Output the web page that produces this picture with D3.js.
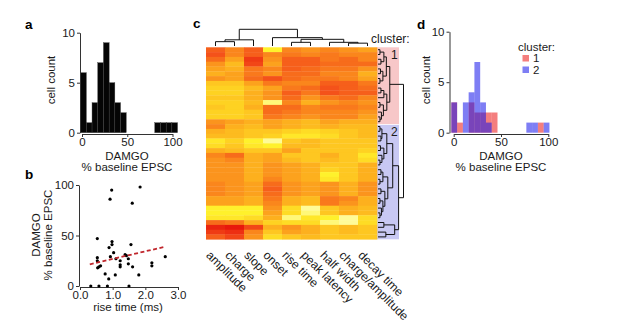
<!DOCTYPE html>
<html><head><meta charset="utf-8">
<script src="https://cdn.jsdelivr.net/npm/d3@7"></script>
<style>
body{margin:0;background:#fff;}
svg{display:block;font-family:"Liberation Sans",Arial,sans-serif;}
</style></head><body>
<svg id="chart" width="617" height="328"></svg>
<script>
// ---------- Panel a: histogram ----------
const histBinStartA = -1.5, histBinWidthA = 6.3;
const histCountsA = [6,1,3,7,9,5,3,2,0,0,0,0,0,1,1,1,1];
const histTicksX = [0,50,100];
const histTicksY = [0,5,10];

// ---------- Panel b: scatter ----------
const riseTime = [0.33,0.58,0.84,1.50,0.92,0.97,1.84,1.60,0.53,0.98,0.98,0.89,1.03,1.56,0.53,0.53,0.54,0.58,0.63,0.93,1.10,1.23,1.23,1.23,1.38,1.42,1.48,1.48,1.61,0.77,0.88,1.08,1.80,2.20,2.20,2.61];
const damgoB   = [0,0,0,0,86,95,98,82,47,44,41,38,33,41,28,25,18,19,20,29,27,25,21,19,31,30,27,22,19,12,7,11,11,23,20,29];
const trendX = [0.3, 2.62];
const trendY = [21.5, 39];
const scatterTicksX = [0,1,2,3];
const scatterTicksY = [0,50,100];

// ---------- Panel c: heatmap ----------
const features = ["amplitude","charge","slope","onset","rise time","peak latency","half width","charge/amplitude","decay time"];
const heat = [
 [0.30,0.45,0.30,0.90,0.45,0.50,0.45,0.50,0.55],
 [0.25,0.45,0.30,0.45,0.40,0.45,0.40,0.45,0.45],
 [0.35,0.55,0.15,0.50,0.30,0.30,0.40,0.35,0.45],
 [0.50,0.65,0.20,0.55,0.30,0.30,0.35,0.35,0.35],
 [0.55,0.60,0.40,0.45,0.30,0.35,0.40,0.40,0.50],
 [0.60,0.55,0.40,0.50,0.35,0.35,0.45,0.45,0.60],
 [0.50,0.55,0.35,0.25,0.35,0.40,0.40,0.45,0.55],
 [0.70,0.70,0.55,0.40,0.45,0.45,0.30,0.30,0.40],
 [0.75,0.75,0.65,0.55,0.40,0.35,0.25,0.30,0.35],
 [0.75,0.75,0.60,0.50,0.30,0.40,0.25,0.30,0.30],
 [0.70,0.70,0.60,0.50,0.35,0.50,0.40,0.35,0.45],
 [0.75,0.75,0.65,0.95,0.45,0.60,0.50,0.45,0.50],
 [0.70,0.75,0.60,0.35,0.35,0.45,0.40,0.40,0.45],
 [0.75,0.75,0.70,0.35,0.40,0.45,0.45,0.45,0.50],
 [0.75,0.75,0.70,0.40,0.45,0.50,0.45,0.45,0.55],
 [0.50,0.55,0.60,0.55,0.60,0.65,0.55,0.60,0.60],
 [0.45,0.60,0.65,0.55,0.60,0.65,0.60,0.65,0.65],
 [0.60,0.65,0.70,0.70,0.75,0.80,0.75,0.70,0.65],
 [0.65,0.65,0.70,0.75,0.85,0.85,0.80,0.70,0.65],
 [0.85,0.75,0.90,0.97,0.70,0.65,0.70,0.70,0.70],
 [0.80,0.70,0.85,0.90,0.65,0.65,0.70,0.70,0.70],
 [0.60,0.65,0.70,0.70,0.55,0.70,0.70,0.70,0.75],
 [0.45,0.35,0.60,0.55,0.70,0.70,0.60,0.70,0.85],
 [0.50,0.45,0.60,0.55,0.65,0.70,0.65,0.70,0.80],
 [0.50,0.50,0.60,0.50,0.55,0.60,0.70,0.70,0.60],
 [0.50,0.50,0.60,0.50,0.55,0.60,0.75,0.70,0.60],
 [0.50,0.50,0.60,0.50,0.55,0.60,0.90,0.70,0.60],
 [0.50,0.50,0.60,0.45,0.55,0.60,0.85,0.70,0.60],
 [0.45,0.50,0.55,0.35,0.50,0.55,0.50,0.60,0.50],
 [0.45,0.50,0.55,0.30,0.50,0.55,0.50,0.60,0.50],
 [0.45,0.50,0.55,0.35,0.50,0.55,0.50,0.60,0.50],
 [0.55,0.55,0.60,0.40,0.60,0.65,0.40,0.45,0.60],
 [0.55,0.55,0.60,0.45,0.60,0.65,0.40,0.50,0.60],
 [0.90,0.90,0.90,0.50,0.80,0.97,0.70,0.60,0.65],
 [0.90,0.90,0.90,0.55,0.80,0.95,0.70,0.60,0.65],
 [0.85,0.85,0.80,0.60,0.95,0.85,0.90,0.97,0.80],
 [0.35,0.40,0.60,0.75,0.80,0.80,0.95,0.97,0.80],
 [0.05,0.00,0.20,0.60,0.50,0.60,0.70,0.65,0.70],
 [0.15,0.10,0.45,0.70,0.55,0.60,0.70,0.65,0.70],
 [0.30,0.20,0.50,0.80,0.70,0.65,0.70,0.70,0.70]
];
const clusterSizes = [16, 24];
const clusterLabels = ["1","2"];
// column dendrogram: {h, c:[...]} leaves are column indices
const colTree = {h:1.0, c:[
  {h:0.37, c:[{h:0.26, c:[0,1]}, 2]},
  {h:0.50, c:[3, {h:0.40, c:[{h:0.22, c:[4,5]}, {h:0.22, c:[6, {h:0.17, c:[7,8]}]}]}]}
]};
// row dendrogram: [h, left, right], leaves are row indices
const rowTree = [26,
  [12, [8.5, [6,[2,0,1],[3,2,3]], [5,[2.5,4,5],[2,6,7]]],
       [9, [6,[3,8,9],10], [5.5,[2,11,12],[3.5,13,[2,14,15]]]]],
  [21,
    [15, [9,[4,[2,16,17],[3,18,19]],[6,[2.5,20,21],[4,22,[2,23,24]]]],
         [10,[5,[3,25,26],[2,27,28]],[7,[3,29,30],[5,[2,31,32],[3.5,33,[2,34,35]]]]]],
    [17, [6,36,37], [8,38,39]]]
];

// ---------- Panel d: histogram by cluster ----------
const histBinStartD = -2.5, histBinWidthD = 6.1;
const countsCluster1 = [3,1,0,3,2,2,2,2,0,0,0,0,0,0,0,1,0];
const countsCluster2 = [3,0,3,4,7,3,1,0,0,0,0,0,0,1,1,0,1];

// ================= drawing =================
const svg = d3.select("#chart");
const FS = 11.5;
const txtCol = "#1a1a1a", axCol = "#333";

function styleAxis(g){
  g.selectAll("path.domain").attr("stroke", axCol).attr("stroke-width",1);
  g.selectAll(".tick line").attr("stroke", axCol);
  g.selectAll(".tick text").attr("font-size", FS).attr("fill", txtCol).attr("font-family","Liberation Sans, Arial, sans-serif");
}
function panelLetter(t,x,y){
  svg.append("text").attr("x",x).attr("y",y).attr("font-weight","bold").attr("font-size",13.5).attr("fill","#000").text(t);
}

// ----- Panel a -----
{
  const x = d3.scaleLinear().domain([0,100]).range([82,172.5]);
  const y = d3.scaleLinear().domain([0,10]).range([132.7,32.7]);
  const g = svg.append("g");
  g.selectAll("rect").data(histCountsA.map((c,i)=>({c,i})).filter(d=>d.c>0)).join("rect")
    .attr("x", d=>x(histBinStartA + d.i*histBinWidthA))
    .attr("width", x(histBinWidthA)-x(0))
    .attr("y", d=>y(d.c)).attr("height", d=>y(0)-y(d.c))
    .attr("fill","#050505").attr("stroke","#444").attr("stroke-width",0.4);
  g.append("g").attr("transform","translate(80,0)")
    .call(d3.axisLeft(y).tickValues(histTicksY).tickSize(3).tickSizeOuter(0).tickPadding(2)).call(styleAxis);
  g.append("g").attr("transform","translate(0,134)")
    .call(d3.axisBottom(x).tickValues(histTicksX).tickSize(3).tickSizeOuter(0).tickPadding(1)).call(styleAxis);
  g.append("text").attr("transform","translate(55,80) rotate(-90)").attr("text-anchor","middle")
    .attr("font-size",FS).attr("fill",txtCol).text("cell count");
  g.append("text").attr("x",127).attr("y",160).attr("text-anchor","middle").attr("font-size",FS).attr("fill",txtCol).text("DAMGO");
  g.append("text").attr("x",127).attr("y",171).attr("text-anchor","middle").attr("font-size",FS).attr("fill",txtCol).text("% baseline EPSC");
  panelLetter("a",25,29);
}

// ----- Panel b -----
{
  const x = d3.scaleLinear().domain([0,3]).range([80,178]);
  const y = d3.scaleLinear().domain([0,100]).range([286,185]);
  const g = svg.append("g");
  g.append("g").attr("transform","translate(79,0)")
    .call(d3.axisLeft(y).tickValues(scatterTicksY).tickSize(3).tickSizeOuter(0).tickPadding(2)).call(styleAxis);
  g.append("g").attr("transform","translate(0,287)")
    .call(d3.axisBottom(x).tickValues(scatterTicksX).tickSize(3).tickSizeOuter(0).tickPadding(1)).call(styleAxis);
  g.selectAll("circle").data(riseTime.map((r,i)=>[r,damgoB[i]])).join("circle")
    .attr("cx",d=>x(d[0])).attr("cy",d=>y(d[1])).attr("r",1.6).attr("fill","#000");
  g.append("line").attr("x1",x(trendX[0])).attr("y1",y(trendY[0])).attr("x2",x(trendX[1])).attr("y2",y(trendY[1]))
    .attr("stroke","#c0272d").attr("stroke-width",1.8).attr("stroke-dasharray","4,2.5");
  g.append("text").attr("transform","translate(40,235) rotate(-90)").attr("text-anchor","middle")
    .attr("font-size",FS).attr("fill",txtCol).text("DAMGO");
  g.append("text").attr("transform","translate(52,235) rotate(-90)").attr("text-anchor","middle")
    .attr("font-size",FS).attr("fill",txtCol).text("% baseline EPSC");
  g.append("text").attr("x",128).attr("y",311).attr("text-anchor","middle").attr("font-size",FS).attr("fill",txtCol).text("rise time (ms)");
  panelLetter("b",25,179);
}

// ----- Panel c -----
{
  const nR = heat.length, nC = features.length;
  const x = d3.scaleBand().domain(d3.range(nC)).range([206,377]);
  const y = d3.scaleBand().domain(d3.range(nR)).range([47.3,239.3]);
  const color = d3.scaleLinear().domain([0,0.25,0.45,0.6,0.75,0.9,1])
    .range(["#e8180c","#f4521a","#fa861c","#fdb01e","#fed222","#fff12c","#ffffc6"]).clamp(true);
  const g = svg.append("g");
  const bx0 = 377, bx1 = 399;
  let start = 0;
  const bandCols = ["#f7c7c8","#c8c8f3"];
  clusterSizes.forEach((n,k)=>{
    const y0 = y(start), y1 = y(start+n-1)+y.bandwidth();
    g.append("rect").attr("x",bx0).attr("y",y0+(k?0.8:0)).attr("width",bx1-bx0).attr("height",y1-y0-(k?0.8:0)).attr("fill",bandCols[k]);
    g.append("text").attr("x",391).attr("y",y0+11.5).attr("font-size",12).attr("fill",txtCol).text(clusterLabels[k]);
    start += n;
  });
  heat.forEach((row,r)=>row.forEach((v,c)=>{
    g.append("rect").attr("x",x(c)).attr("y",y(r)).attr("width",x.bandwidth()+0.3).attr("height",y.bandwidth()+0.3).attr("fill",color(v));
  }));
  const hy = d3.scaleLinear().domain([0,1]).range([46,29.3]);
  function colPos(n){
    if (typeof n === "number") return {x: x(n)+x.bandwidth()/2, h:0};
    const kids = n.c.map(colPos);
    const px = (kids[0].x + kids[kids.length-1].x)/2;
    const yy = hy(n.h);
    g.append("line").attr("x1",kids[0].x).attr("x2",kids[kids.length-1].x).attr("y1",yy).attr("y2",yy).attr("stroke","#111").attr("stroke-width",1);
    kids.forEach(k=>g.append("line").attr("x1",k.x).attr("x2",k.x).attr("y1",yy).attr("y2",hy(k.h)).attr("stroke","#111").attr("stroke-width",1));
    return {x:px, h:n.h};
  }
  colPos(colTree);
  const hx = d3.scaleLinear().domain([0,26]).range([378,403.5]);
  function rowPos(n){
    if (typeof n === "number") return {y: y(n)+y.bandwidth()/2, h:0};
    const kids = [rowPos(n[1]), rowPos(n[2])];
    const xx = hx(n[0]);
    g.append("line").attr("x1",xx).attr("x2",xx).attr("y1",kids[0].y).attr("y2",kids[1].y).attr("stroke","#111").attr("stroke-width",1);
    kids.forEach(k=>g.append("line").attr("y1",k.y).attr("y2",k.y).attr("x1",hx(k.h)).attr("x2",xx).attr("stroke","#111").attr("stroke-width",1));
    return {y:(kids[0].y+kids[1].y)/2, h:n[0]};
  }
  rowPos(rowTree);
  g.append("text").attr("x",371).attr("y",43).attr("font-size",12).attr("fill",txtCol).text("cluster:");
  features.forEach((f,c)=>{
    g.append("text").attr("transform",`translate(${x(c)+x.bandwidth()/2-10},${256}) rotate(45)`)
      .attr("font-size",12).attr("fill",txtCol).text(f);
  });
  panelLetter("c",193,28);
}

// ----- Panel d -----
{
  const x = d3.scaleLinear().domain([0,100]).range([453.7,548.3]);
  const y = d3.scaleLinear().domain([0,10]).range([132.7,31.7]);
  const g = svg.append("g");
  const series = [{counts:countsCluster1, col:"rgb(235,20,20)"},{counts:countsCluster2, col:"rgb(20,20,235)"}];
  series.forEach(s=>{
    g.append("g").selectAll("rect").data(s.counts.map((c,i)=>({c,i})).filter(d=>d.c>0)).join("rect")
      .attr("x",d=>x(histBinStartD + d.i*histBinWidthD)).attr("width",x(histBinWidthD)-x(0))
      .attr("y",d=>y(d.c)).attr("height",d=>y(0)-y(d.c))
      .attr("fill",s.col).attr("fill-opacity",0.55);
  });
  g.append("g").attr("transform","translate(449.5,0)")
    .call(d3.axisLeft(y).tickValues(histTicksY).tickSize(3).tickSizeOuter(0).tickPadding(2)).call(styleAxis);
  g.append("g").attr("transform","translate(0,134)")
    .call(d3.axisBottom(x).tickValues(histTicksX).tickSize(3).tickSizeOuter(0).tickPadding(1)).call(styleAxis);
  g.append("text").attr("transform","translate(430,80) rotate(-90)").attr("text-anchor","middle")
    .attr("font-size",FS).attr("fill",txtCol).text("cell count");
  g.append("text").attr("x",501).attr("y",160).attr("text-anchor","middle").attr("font-size",FS).attr("fill",txtCol).text("DAMGO");
  g.append("text").attr("x",501).attr("y",171).attr("text-anchor","middle").attr("font-size",FS).attr("fill",txtCol).text("% baseline EPSC");
  g.append("text").attr("x",518).attr("y",51).attr("font-size",FS).attr("fill",txtCol).text("cluster:");
  clusterLabels.forEach((l,k)=>{
    g.append("rect").attr("x",522.5).attr("y",55+k*11.5).attr("width",6.5).attr("height",6.5)
      .attr("fill",series[k].col).attr("fill-opacity",0.55);
    g.append("text").attr("x",533).attr("y",62+k*11.5).attr("font-size",FS).attr("fill",txtCol).text(l);
  });
  panelLetter("d",417,29);
}
</script>
</body></html>
